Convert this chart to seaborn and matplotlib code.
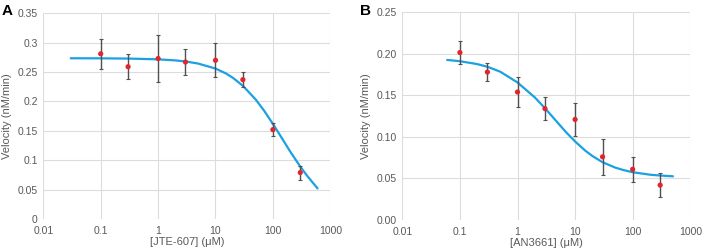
import numpy as np
import pandas as pd
import seaborn as sns
import matplotlib.pyplot as plt
from matplotlib.ticker import FixedLocator, FixedFormatter

# measured points, panel A (JTE-607)
conc = [0.1, 0.3, 1, 3, 10, 30, 100, 300]
vel_a = [0.281, 0.259, 0.273, 0.267, 0.270, 0.237, 0.152, 0.079]
err_a = [0.026, 0.021, 0.040, 0.022, 0.029, 0.013, 0.011, 0.012]

# fitted curve A
fit_x_a = [0.03, 0.1, 0.3, 1, 2, 3, 5, 10, 15, 20, 30, 50, 70, 100, 150, 200, 300, 400, 600]
fit_y_a = [0.2734, 0.2733, 0.2729, 0.2716, 0.2698, 0.2680, 0.2644, 0.2559, 0.2479, 0.2403,
           0.2266, 0.2034, 0.1845, 0.1619, 0.1345, 0.1148, 0.0891, 0.0728, 0.0520]

# measured points, panel B (AN3661)
vel_b = [0.2015, 0.178, 0.154, 0.134, 0.121, 0.076, 0.061, 0.042]
err_b = [0.0135, 0.011, 0.018, 0.0135, 0.020, 0.0215, 0.015, 0.0145]

# fitted curve B
fit_x_b = [0.06, 0.1, 0.2, 0.3, 0.5, 1, 2, 3, 5, 7, 10, 15, 20, 30, 50, 70, 100, 200, 300, 500]
fit_y_b = [0.1926, 0.1911, 0.1876, 0.1844, 0.1785, 0.1655, 0.1475, 0.1345, 0.1170, 0.1055,
           0.0945, 0.0835, 0.0770, 0.0695, 0.0630, 0.0600, 0.0575, 0.0545, 0.0535, 0.0526]

xticks = [0.01, 0.1, 1, 10, 100, 1000]
xtick_labels = ["0.01", "0.1", "1", "10", "100", "1000"]
yticks_a = [0, 0.05, 0.1, 0.15, 0.2, 0.25, 0.3, 0.35]
ylabels_a = ["0", "0.05", "0.1", "0.15", "0.2", "0.25", "0.3", "0.35"]
yticks_b = [0, 0.05, 0.10, 0.15, 0.20, 0.25]
ylabels_b = ["0.00", "0.05", "0.10", "0.15", "0.20", "0.25"]

sns.set_style("white")
plt.rcParams['font.family'] = ['Liberation Sans', 'DejaVu Sans']

text_col = '#595959'
grid_col = '#dcdcdc'
line_col = '#1ba1e2'
dot_col = '#e3242b'

fig = plt.figure(figsize=(7.02, 2.5), dpi=100)
ax_a = fig.add_axes([0.0617, 0.124, 0.4088, 0.823])
ax_b = fig.add_axes([0.5731, 0.120, 0.4102, 0.831])

panels = [
    (ax_a, vel_a, err_a, fit_x_a, fit_y_a, yticks_a, ylabels_a, 0.35, '[JTE-607] (\u03bcM)', 'A'),
    (ax_b, vel_b, err_b, fit_x_b, fit_y_b, yticks_b, ylabels_b, 0.25, '[AN3661] (\u03bcM)', 'B'),
]

for ax, vel, err, fx, fy, yt, yl, ymax, xlab, tag in panels:
    pts = pd.DataFrame({'conc': conc, 'vel': vel})
    fit = pd.DataFrame({'x': fx, 'y': fy})
    ax.set_xscale('log')
    sns.lineplot(data=fit, x='x', y='y', ax=ax, color=line_col, lw=1.6, zorder=2)
    ax.errorbar(conc, vel, yerr=err, fmt='none', ecolor='#505050', elinewidth=1.0,
                capsize=1.5, capthick=0.8, zorder=3)
    sns.scatterplot(data=pts, x='conc', y='vel', ax=ax, color=dot_col, s=14,
                    edgecolor='none', zorder=4)
    ax.set_xlim(0.01, 1000)
    ax.set_ylim(0, ymax)
    ax.xaxis.set_major_locator(FixedLocator(xticks))
    ax.xaxis.set_major_formatter(FixedFormatter(xtick_labels))
    ax.xaxis.set_minor_locator(FixedLocator([]))
    ax.yaxis.set_major_locator(FixedLocator(yt))
    ax.yaxis.set_major_formatter(FixedFormatter(yl))
    ax.grid(True, color=grid_col, lw=0.8)
    for s in ax.spines.values():
        s.set_visible(False)
    ax.tick_params(axis='y', length=0, labelsize=7.5, labelcolor=text_col, pad=4)
    ax.tick_params(axis='x', length=0, labelsize=7.5, labelcolor=text_col, pad=5)
    ax.set_xlabel(xlab, fontsize=8, color=text_col, labelpad=1)
    ax.set_ylabel('Velocity (nM/min)', fontsize=8, color=text_col, labelpad=4)
    pos = ax.get_position()
    fig.text(pos.x0 - 0.06, 0.985, tag, fontsize=11, fontweight='bold',
             ha='left', va='top', color='black')

fig.savefig('out.png', dpi=100)
